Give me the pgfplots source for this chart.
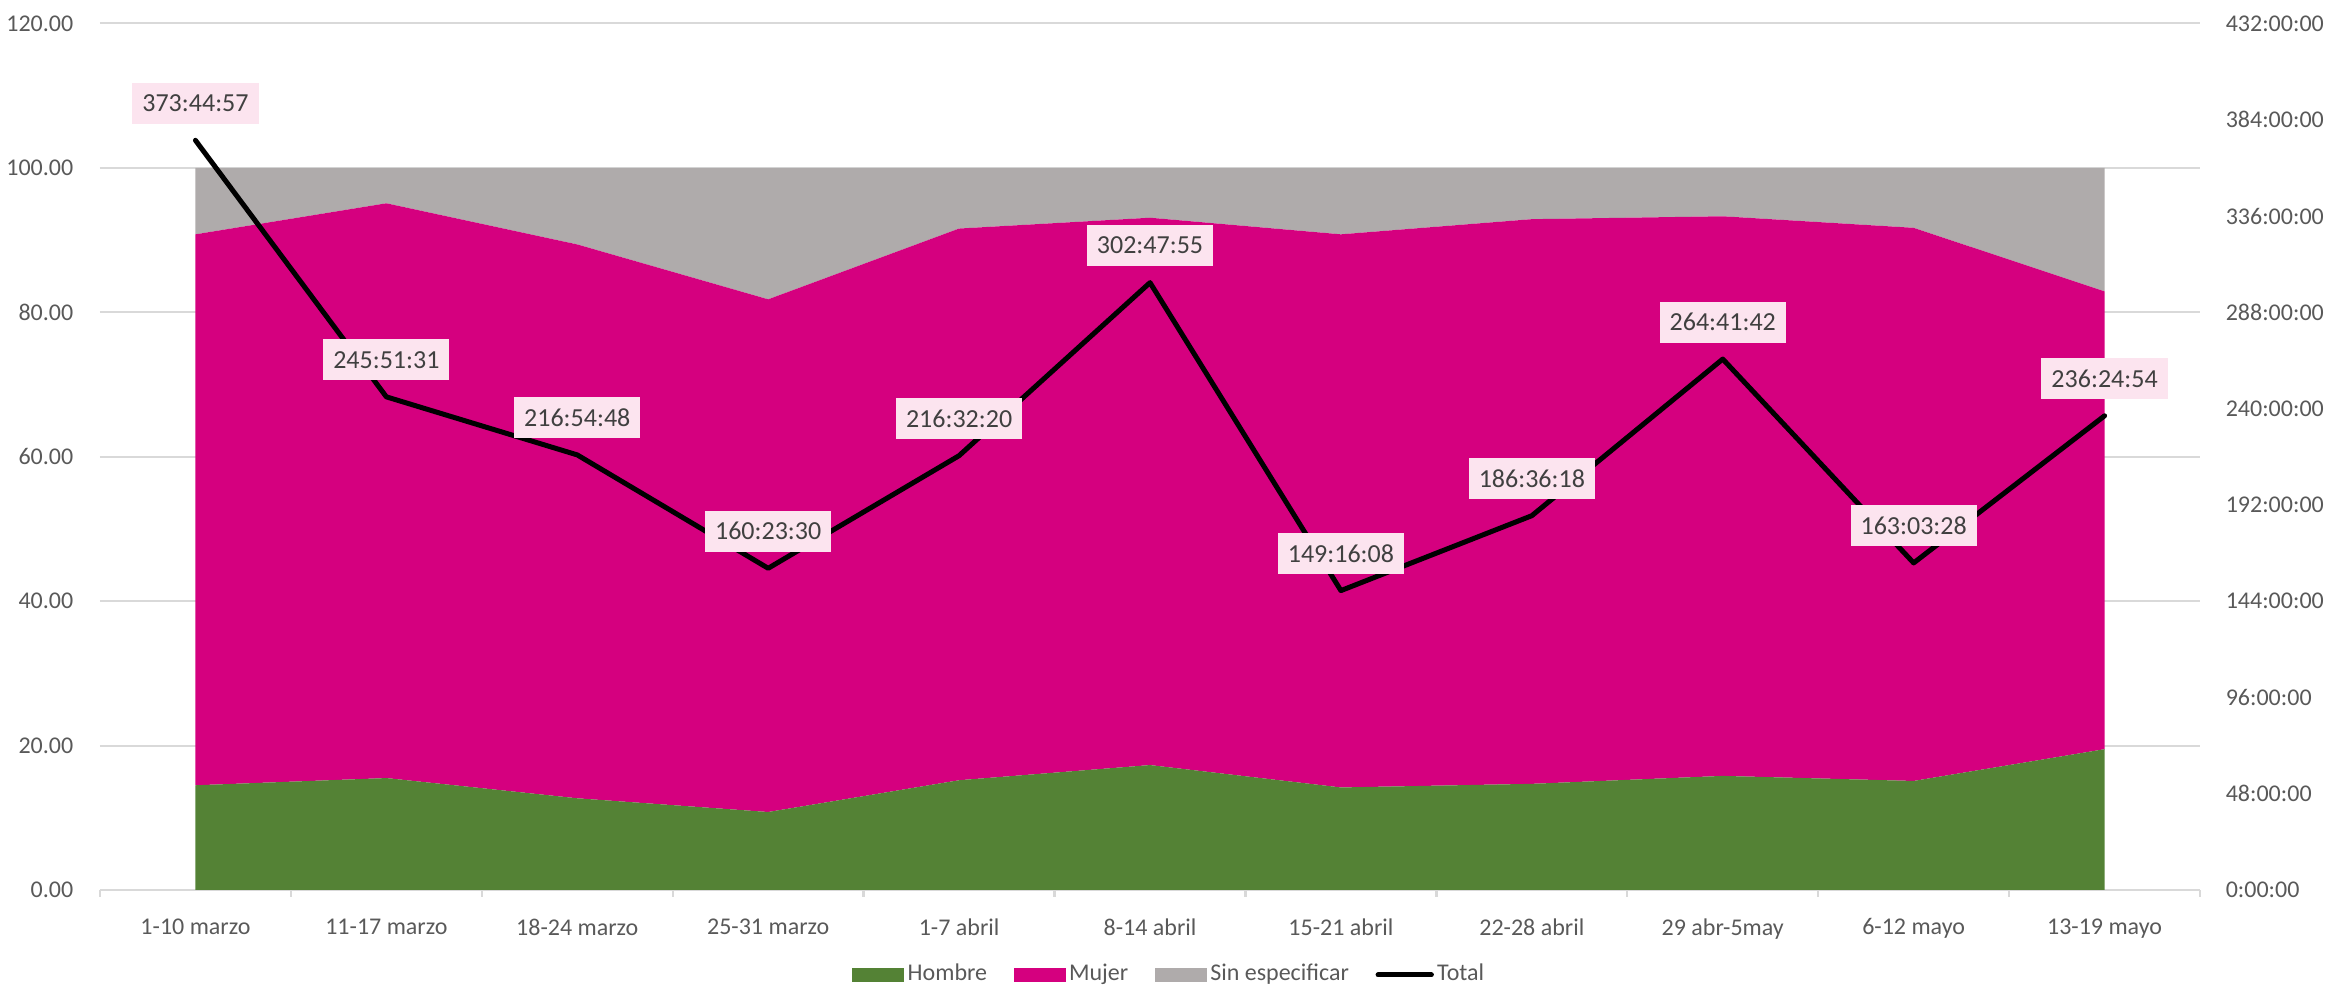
\documentclass[border=0pt]{standalone}
\usepackage{pgfplots}
\pgfplotsset{compat=1.18}
\usepackage{pgfplotstable}
\usepackage{fontspec}
\setmainfont{Carlito}
\definecolor{cgreen}{HTML}{548235}
\definecolor{cmag}{HTML}{D5007F}
\definecolor{cgray}{HTML}{AFABAB}
\definecolor{cgrid}{HTML}{D9D9D9}
\definecolor{ctext}{HTML}{595959}
\definecolor{clab}{HTML}{FCE4EF}
\definecolor{clabtext}{HTML}{404040}

\pgfplotstableread{
x hombre mujer sin
0 14.5 76.3 9.2
1 15.5 79.6 4.9
2 12.7 76.7 10.6
3 10.8 71.0 18.2
4 15.2 76.4 8.4
5 17.3 75.8 6.9
6 14.2 76.6 9.2
7 14.7 78.2 7.1
8 15.8 77.5 6.7
9 15.1 76.6 8.3
10 19.5 63.4 17.1
}\areadata

\pgfplotstableread{
x total label
0 373.749 373:44:57
1 245.859 245:51:31
2 216.913 216:54:48
3 160.392 160:23:30
4 216.539 216:32:20
5 302.799 302:47:55
6 149.269 149:16:08
7 186.605 186:36:18
8 264.695 264:41:42
9 163.058 163:03:28
10 236.415 236:24:54
}\totaldata

\begin{document}
\begin{tikzpicture}
\begin{axis}[
  width=630pt, height=259.95pt, scale only axis,
  at={(0,0)}, anchor=south west,
  xmin=-0.5, xmax=10.5, ymin=0, ymax=120,
  stack plots=y,
  axis x line*=bottom, axis y line*=left,
  x axis line style={draw=cgrid, line width=0.7pt},
  y axis line style={draw=none},
  major tick length=0pt,
  minor tick length=2.1pt,
  tick align=outside,
  ytick={0,20,40,60,80,100,120},
  yticklabels={0.00,20.00,40.00,60.00,80.00,100.00,120.00},
  ymajorgrids, grid style={cgrid, line width=0.6pt},
  ytick style={draw=none},
  xtick={0,...,10},
  xticklabels={1-10 marzo,11-17 marzo,18-24 marzo,25-31 marzo,1-7 abril,8-14 abril,15-21 abril,22-28 abril,29 abr-5may,6-12 mayo,13-19 mayo},
  xtick style={draw=none},
  minor xtick={-0.5,0.5,...,10.5},
  minor x tick style={draw=cgrid, line width=0.7pt},
  ticklabel style={font=\fontsize{7.2}{8.6}\selectfont, text=ctext},
  xticklabel style={yshift=-5.1pt},
  yticklabel style={xshift=-4.5pt},
  legend style={at={(0.5095,-0.098)}, anchor=center, legend columns=4,
    draw=none, fill=none, font=\fontsize{7.2}{8.6}\selectfont, text=ctext,
    nodes={inner xsep=1pt, inner ysep=1pt},
    /tikz/every even column/.append style={column sep=7pt}},
  legend image code/.code={\fill[#1] (0pt,-2.1pt) rectangle (15.6pt,2.1pt);},
]
\addplot[fill=cgreen, draw=none] table[x=x, y=hombre] {\areadata} \closedcycle;
\addlegendentry{Hombre}
\addplot[fill=cmag, draw=none] table[x=x, y=mujer] {\areadata} \closedcycle;
\addlegendentry{Mujer}
\addplot[fill=cgray, draw=none] table[x=x, y=sin] {\areadata} \closedcycle;
\addlegendentry{Sin especificar}
\addlegendimage{legend image code/.code={\draw[black, line width=1.5pt, line cap=round] (0pt,0pt) -- (16pt,0pt);}}
\addlegendentry{Total}
\end{axis}
\begin{axis}[
  width=630pt, height=259.95pt, scale only axis,
  at={(0,0)}, anchor=south west,
  xmin=-0.5, xmax=10.5, ymin=0, ymax=432,
  axis x line=none, axis y line*=right,
  y axis line style={draw=none},
  major tick length=0pt,
  ytick={0,48,96,144,192,240,288,336,384,432},
  yticklabels={0:00:00,48:00:00,96:00:00,144:00:00,192:00:00,240:00:00,288:00:00,336:00:00,384:00:00,432:00:00},
  ytick style={draw=none},
  yticklabel style={font=\fontsize{7.2}{8.6}\selectfont, text=ctext, xshift=4.2pt},
  clip=false,
]
\addplot[black, line width=1.5pt, line join=round, line cap=round, mark=none,
  nodes near coords, point meta=explicit symbolic,
  nodes near coords style={font=\fontsize{7.8}{9}\selectfont, text=clabtext, fill=clab,
    inner xsep=3pt, inner ysep=0pt, minimum height=12.3pt, anchor=south, yshift=4.2pt}]
  table[x=x, y=total, meta=label] {\totaldata};
\end{axis}
\pgfresetboundingbox
\path[use as bounding box] (-30pt,-29.1pt) rectangle (667.8pt,267pt);
\end{tikzpicture}
\end{document}
